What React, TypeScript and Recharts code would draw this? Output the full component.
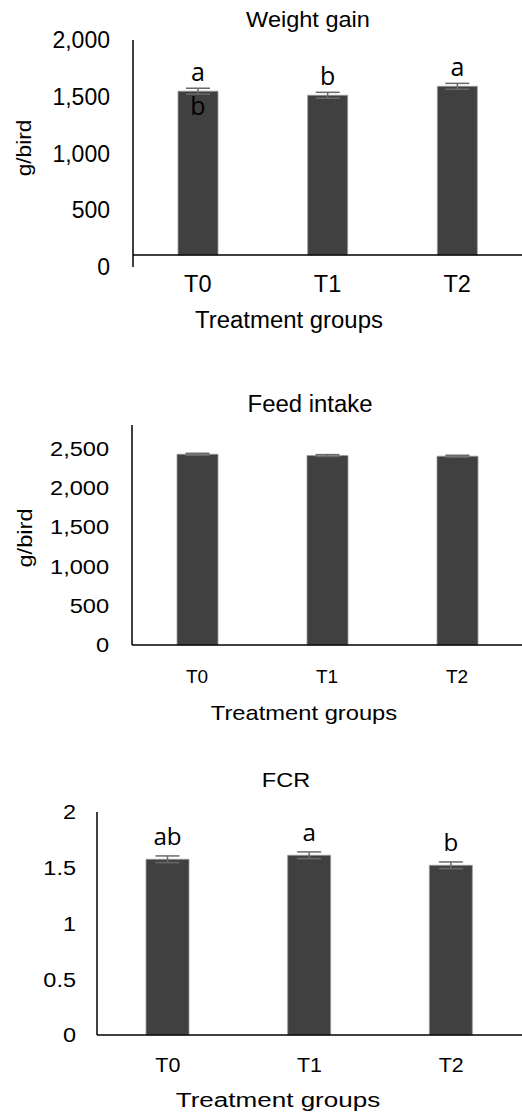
import React from 'react';
import { BarChart, Bar, XAxis, YAxis, ErrorBar, LabelList, ReferenceLine } from 'recharts';

// ---------- data ----------
const groups = ['T0', 'T1', 'T2'];

const weightGain = [1549, 1513, 1592];
const weightGainErr = [26, 26, 26];
const weightGainSigAbove = ['a', 'b', 'a'];
const weightGainSigInside = ['b', '', ''];
const weightGainAxisCross = 105;
const weightGainTicks = [0, 500, 1000, 1500, 2000];
const weightGainMax = 2000;

const feedIntake = [2428, 2411, 2403];
const feedIntakeErr = [12, 12, 12];
const feedIntakeTicks = [0, 500, 1000, 1500, 2000, 2500];
const feedIntakeMax = 2800;

const fcr = [1.576, 1.612, 1.522];
const fcrErr = [0.03, 0.03, 0.03];
const fcrSig = ['ab', 'a', 'b'];
const fcrTicks = [0, 0.5, 1, 1.5, 2];
const fcrMax = 2;

const wgData = groups.map((g, i) => ({
  group: g,
  range: [weightGainAxisCross, weightGain[i]],
  err: weightGainErr[i],
  sigA: weightGainSigAbove[i],
  sigB: weightGainSigInside[i],
}));
const fiData = groups.map((g, i) => ({ group: g, value: feedIntake[i], err: feedIntakeErr[i] }));
const fcrData = groups.map((g, i) => ({ group: g, value: fcr[i], err: fcrErr[i], sig: fcrSig[i] }));

// ---------- styles ----------
const FONT = 'Liberation Sans, Arial, sans-serif';
const LETTER_FONT = 'Open Sans, Noto Sans, sans-serif';
const BAR_FILL = '#404040';
const BAR_STROKE = '#9a9a9a';
const ERR_COLOR = '#6a6a6a';

type STProps = {
  x: number; y: number; sx?: number; anchor?: 'start' | 'middle' | 'end';
  size: number; rotate?: number; family?: string; children?: React.ReactNode;
};
function ScaledText({ x, y, sx = 1, anchor = 'middle', size, rotate = 0, family = FONT, children }: STProps) {
  let t = `translate(${x},${y})`;
  if (rotate) t += ` rotate(${rotate})`;
  if (sx !== 1) t += ` scale(${sx},1)`;
  return (
    <text transform={t} textAnchor={anchor} fontSize={size} fontFamily={family} fill="#000">
      {children}
    </text>
  );
}

const fmtThousands = (v: number) => v.toLocaleString('en-US');
const fmtPlain = (v: number) => String(v);

const makeYTick = (size: number, sx: number, fmt: (v: number) => string) => (props: any) => {
  const { x, y, payload } = props;
  return (
    <ScaledText x={x} y={y + size * 0.355} sx={sx} anchor="end" size={size}>
      {fmt(payload.value)}
    </ScaledText>
  );
};
const makeXTick = (size: number, sx: number) => (props: any) => {
  const { x, y, payload } = props;
  return (
    <ScaledText x={x} y={y + size * 0.71} sx={sx} anchor="middle" size={size}>
      {payload.value}
    </ScaledText>
  );
};

const makeSig = (offset: number, size: number, sx: number) => (p: any) => {
  const vb = p.viewBox ?? p;
  const x = (vb.x ?? p.x) as number;
  const y = (vb.y ?? p.y) as number;
  const w = (vb.width ?? p.width) as number;
  if (!p.value) return null;
  return (
    <ScaledText x={x + w / 2} y={y + offset} sx={sx} size={size} family={LETTER_FONT}>
      {p.value}
    </ScaledText>
  );
};

const axisLineStyle = { stroke: '#000', strokeWidth: 1.5 };

export default function App() {
  return (
    <div style={{ position: 'absolute', left: 0, top: 0, width: 522, height: 1116, background: '#fff', overflow: 'hidden' }}>
      {/* Weight gain */}
      <div style={{ position: 'absolute', left: 0, top: 0 }}>
        <BarChart width={522} height={330} data={wgData} margin={{ top: 40, right: 0, bottom: 0, left: 0 }}>
          <XAxis dataKey="group" axisLine={false} tickLine={false} tickSize={0} tickMargin={8} height={63}
            interval={0} tick={makeXTick(23.5, 1)} />
          <YAxis type="number" width={133} domain={[0, weightGainMax]} ticks={weightGainTicks} axisLine={axisLineStyle}
            tickLine={false} tickSize={0} tickMargin={23} tick={makeYTick(23, 1, fmtThousands)} />
          <ReferenceLine y={weightGainAxisCross} stroke="#000" strokeWidth={1.5} />
          <Bar dataKey="range" fill={BAR_FILL} stroke={BAR_STROKE} strokeWidth={0.8} barSize={40} isAnimationActive={false}>
            <ErrorBar dataKey="err" width={12} stroke={ERR_COLOR} strokeWidth={1.5} direction="y" isAnimationActive={false} />
            <LabelList dataKey="sigA" content={makeSig(-10, 25, 1)} />
            <LabelList dataKey="sigB" content={makeSig(24, 25, 1)} />
          </Bar>
        </BarChart>
      </div>

      {/* Feed intake */}
      <div style={{ position: 'absolute', left: 0, top: 380 }}>
        <BarChart width={522} height={320} data={fiData} margin={{ top: 45, right: 0, bottom: 0, left: 0 }}>
          <XAxis dataKey="group" axisLine={axisLineStyle} tickLine={false} tickSize={0} tickMargin={25} height={55}
            interval={0} tick={makeXTick(19, 1)} />
          <YAxis type="number" width={132} domain={[0, feedIntakeMax]} ticks={feedIntakeTicks} axisLine={axisLineStyle}
            tickLine={false} tickSize={0} tickMargin={23} tick={makeYTick(20.5, 1.15, fmtThousands)} />
          <Bar dataKey="value" fill={BAR_FILL} stroke={BAR_STROKE} strokeWidth={0.8} barSize={41} isAnimationActive={false}>
            <ErrorBar dataKey="err" width={12} stroke={ERR_COLOR} strokeWidth={1.5} direction="y" isAnimationActive={false} />
          </Bar>
        </BarChart>
      </div>

      {/* FCR */}
      <div style={{ position: 'absolute', left: 0, top: 760 }}>
        <BarChart width={522} height={320} data={fcrData} margin={{ top: 52, right: 0, bottom: 0, left: 0 }}>
          <XAxis dataKey="group" axisLine={axisLineStyle} tickLine={false} tickSize={0} tickMargin={23} height={45}
            interval={0} tick={makeXTick(19.5, 1.1)} />
          <YAxis type="number" width={97} domain={[0, fcrMax]} ticks={fcrTicks} axisLine={axisLineStyle}
            tickLine={false} tickSize={0} tickMargin={21} tick={makeYTick(21, 1.12, fmtPlain)} />
          <Bar dataKey="value" fill={BAR_FILL} stroke={BAR_STROKE} strokeWidth={0.8} barSize={43} isAnimationActive={false}>
            <ErrorBar dataKey="err" width={12} stroke={ERR_COLOR} strokeWidth={1.5} direction="y" isAnimationActive={false} />
            <LabelList dataKey="sig" content={makeSig(-14, 23, 1.05)} />
          </Bar>
        </BarChart>
      </div>

      {/* titles and axis titles */}
      <svg width={522} height={1116} style={{ position: 'absolute', left: 0, top: 0, pointerEvents: 'none' }}>
        <ScaledText x={308} y={26.7} size={22} sx={1.07}>Weight gain</ScaledText>
        <ScaledText x={31} y={148} size={21} sx={1.08} rotate={-90}>g/bird</ScaledText>
        <ScaledText x={289} y={328} size={23} sx={1.04}>Treatment groups</ScaledText>

        <ScaledText x={310} y={411.7} size={23} sx={1.04}>Feed intake</ScaledText>
        <ScaledText x={32} y={538} size={20} sx={1.18} rotate={-90}>g/bird</ScaledText>
        <ScaledText x={304} y={720} size={21} sx={1.13}>Treatment groups</ScaledText>

        <ScaledText x={286} y={786.7} size={21} sx={1.12}>FCR</ScaledText>
        <ScaledText x={278} y={1106.7} size={21} sx={1.24}>Treatment groups</ScaledText>
      </svg>
    </div>
  );
}
